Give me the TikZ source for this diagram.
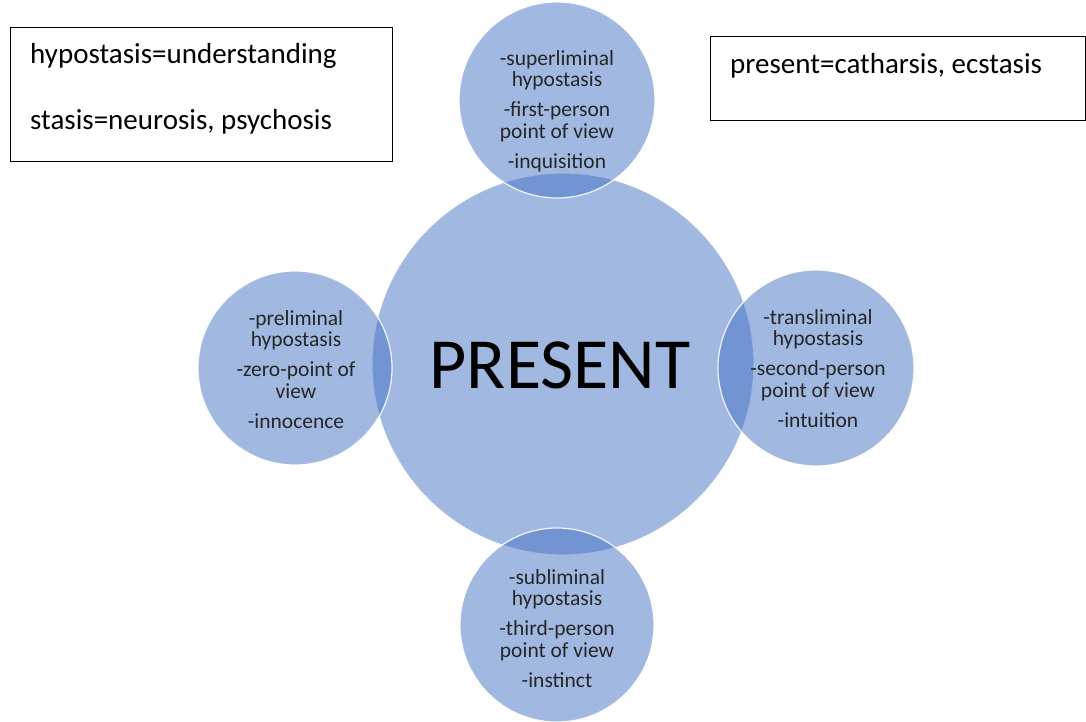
\documentclass[tikz,border=0pt]{standalone}
\usepackage{fontspec}
\setmainfont{Carlito}
\definecolor{cblue}{HTML}{4472C4}
\begin{document}
\begin{tikzpicture}[x=1pt,y=-1pt,
  bub/.style={circle, inner sep=0pt, fill=cblue, fill opacity=0.5, draw=white, draw opacity=0.9, line width=1.2pt},
  btxt/.style={align=center, font=\fontsize{21.5}{21.5}\selectfont, text=black!85, inner sep=0pt},
  keytxt/.style={font=\fontsize{29}{32}\selectfont, anchor=base west, inner sep=0pt}]
\useasboundingbox (0,0) rectangle (1086,722);
\fill[white] (0,0) rectangle (1086,722);
% circles
\node[bub, minimum size=382pt] (center) at (563,364) {};
\node[bub, minimum size=196pt] (top) at (557,100) {};
\node[bub, minimum size=194pt] (left) at (295,368) {};
\node[bub, minimum size=196pt] (right) at (816,368) {};
\node[bub, minimum size=194pt] (bottom) at (557,625) {};
% texts
\node[font=\fontsize{72}{76}\selectfont, inner sep=0pt, anchor=base] (ptxt) at (560,388) {PRESENT};
\node[btxt, anchor=north] (ttxt) at (557,50) {-superliminal\\hypostasis\\[8.5pt]-first-person\\point of view\\[8.5pt]-inquisition};
\node[btxt, anchor=north] (ltxt) at (296,310) {-preliminal\\hypostasis\\[8.5pt]-zero-point of\\view\\[8.5pt]-innocence};
\node[btxt, anchor=north] (rtxt) at (818,309) {-transliminal\\hypostasis\\[8.5pt]-second-person\\point of view\\[8.5pt]-intuition};
\node[btxt, anchor=north] (btxt2) at (557,569) {-subliminal\\hypostasis\\[8.5pt]-third-person\\point of view\\[8.5pt]-instinct};
% boxes
\draw[line width=1pt] (10,28) rectangle (392,162);
\node[keytxt] (k1) at (30,64) {hypostasis=understanding};
\node[keytxt] (k2) at (30,130) {stasis=neurosis, psychosis};
\draw[line width=1pt] (710,37) rectangle (1085,121);
\node[keytxt] (k3) at (730,74) {present=catharsis, ecstasis};
\end{tikzpicture}
\end{document}
